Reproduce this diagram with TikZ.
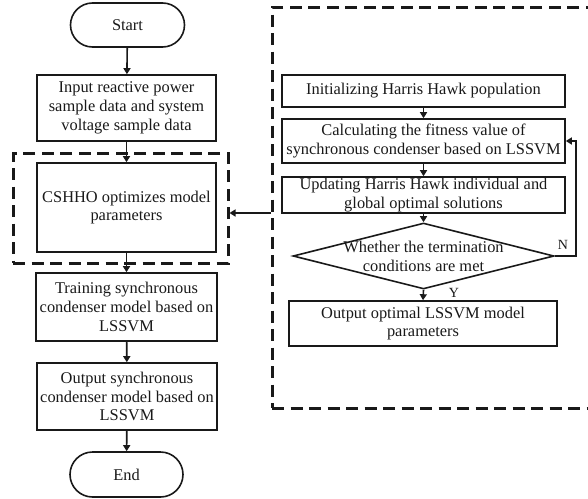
\documentclass[tikz,border=0pt]{standalone}
\usepackage{fontspec}
\setmainfont{Liberation Serif}
\usetikzlibrary{arrows.meta,shapes.geometric,shapes.misc}
\begin{document}
\begin{tikzpicture}[x=1pt,y=-1pt,
  txt/.style={font=\fontsize{16.4}{18.8}\selectfont, align=center, text=black!90},
  box/.style={txt, draw=black!90, line width=1.6pt, inner sep=0pt},
  term/.style={txt, draw=black!90, line width=1.6pt, rounded rectangle, inner sep=0pt},
  dashbox/.style={draw=black!90, line width=3pt, dash pattern=on 12pt off 6.5pt, inner sep=0pt},
  arr/.style={draw=black!90, line width=1.6pt, -{Triangle[length=6pt,width=7pt]}},
  lab/.style={font=\fontsize{14}{16}\selectfont, text=black!90}
]
\useasboundingbox (0,0) rectangle (588,498);
% left column
\node[term, minimum width=114pt, minimum height=44pt] (start) at (127.5,25) {Start};
\node[box, minimum width=179pt, minimum height=66pt] (input) at (126.5,108) {Input reactive power\\sample data and system\\voltage sample data};
\node[dashbox, minimum width=215pt, minimum height=110pt] (ldash) at (120.5,208) {};
\node[box, minimum width=179pt, minimum height=89pt] (cshho) at (126.5,207.5) {CSHHO optimizes model\\parameters};
\node[box, minimum width=181pt, minimum height=68pt] (train) at (126.5,307) {Training synchronous\\condenser model based on\\LSSVM};
\node[box, minimum width=180pt, minimum height=67pt] (outm) at (127,396.5) {Output synchronous\\condenser model based on\\LSSVM};
\node[term, minimum width=113pt, minimum height=45pt] (end) at (126.5,474.5) {End};
% right column
\node[dashbox, minimum width=323pt, minimum height=401pt] (rdash) at (433.5,207.5) {};
\node[box, minimum width=283pt, minimum height=32pt] (init) at (423.5,91) {Initializing Harris Hawk population};
\node[box, minimum width=283pt, minimum height=44pt] (calc) at (423.5,141) {Calculating the fitness value of\\synchronous condenser based on LSSVM};
\node[box, minimum width=283pt, minimum height=36pt] (upd) at (423.5,195) {Updating Harris Hawk individual and\\global optimal solutions};
\node[diamond, draw=black!90, line width=1.6pt, minimum width=261pt, minimum height=66pt, inner sep=0pt, aspect=3.95] (dec) at (423.5,256) {};
\node[txt] (dectxt) at (423.5,256) {Whether the termination\\conditions are met};
\node[box, minimum width=268pt, minimum height=45pt] (opt) at (423,323.5) {Output optimal LSSVM model\\parameters};
% connectors
\draw[arr] (start) -- (input);
\draw[arr] (input) -- (cshho);
\draw[arr] (cshho) -- (train);
\draw[arr] (train) -- (outm);
\draw[arr] (outm) -- (end);
\draw[arr] (init) -- (calc);
\draw[arr] (calc) -- (upd);
\draw[arr] (upd.south) -- (dec.north);
\draw[arr] (dec.south) -- (opt.north);
\coordinate (nx) at (576,256);
\draw[arr] (dec.east) -- (nx) |- (calc.east);
\draw[arr] ([yshift=-5.5pt]rdash.west |- cshho.east) -- ([yshift=-5.5pt]ldash.east |- cshho.east);
\node[lab] (n) at (563,245) {N};
\node[lab] (y) at (454,293) {Y};
\end{tikzpicture}
\end{document}
